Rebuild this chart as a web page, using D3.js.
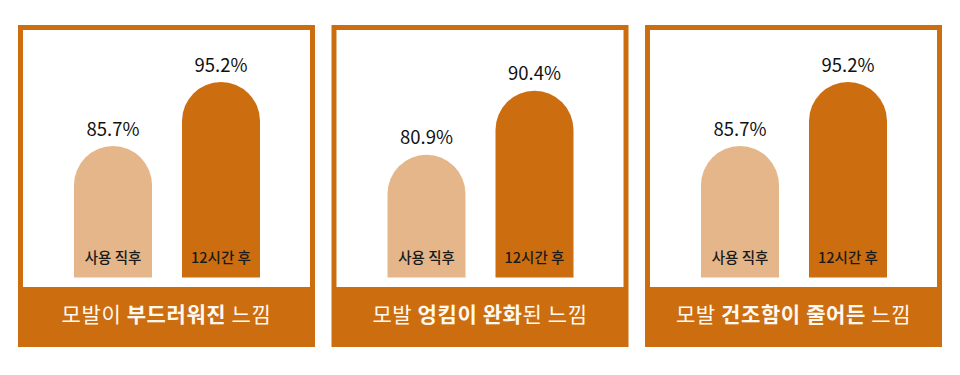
<!DOCTYPE html>
<html>
<head>
<meta charset="utf-8">
<script src="https://cdn.jsdelivr.net/npm/d3@7"></script>
<style>
  html, body { margin: 0; padding: 0; background: #fff; }
  svg { display: block; font-family: "Noto Sans CJK KR", "Noto Sans", sans-serif; }
</style>
</head>
<body>
<div id="chart"></div>
<script>
// panel titles: [regular, bold, regular]
const panelTitles = [
  ["모발이 ", "부드러워진", " 느낌"],
  ["모발 ", "엉킴이 완화", "된 느낌"],
  ["모발 ", "건조함이 줄어든", " 느낌"]
];
const barLabels = ["사용 직후", "12시간 후"];
const panelValues = [
  [85.7, 95.2],
  [80.9, 90.4],
  [85.7, 95.2]
];
// value at which each panel's bars start
const panelFloors = [66.2, 62.7, 66.2];

const width = 960, height = 375;
const orange = "#cc6e0f", light = "#e5b689";

/** Layout of one panel */
const panel = { top: 25, height: 322, border: 5, bannerTop: 287, barBottom: 277.5 };
const pxPerPoint = 6.74;

const svg = d3.select("#chart").append("svg")
  .attr("width", width)
  .attr("height", height);

// three panels, 297px wide each
const xPanel = d3.scaleBand()
  .domain(d3.range(panelTitles.length))
  .range([18, 942])
  .paddingInner(33 / 627);

const xBar = d3.scaleBand()
  .domain(barLabels)
  .range([56, 242])
  .paddingInner(30 / 108);

const panels = svg.selectAll("g.panel")
  .data(panelTitles.map((t, i) => ({ title: t, values: panelValues[i], floor: panelFloors[i] })))
  .join("g")
  .attr("class", "panel")
  .attr("transform", (d, i) => "translate(" + xPanel(i) + ",0)");

const pw = xPanel.bandwidth();

// orange frame and white interior
panels.append("rect")
  .attr("x", 0).attr("y", panel.top)
  .attr("width", pw).attr("height", panel.height)
  .attr("fill", orange);

panels.append("rect")
  .attr("x", panel.border).attr("y", panel.top + panel.border)
  .attr("width", pw - panel.border * 2)
  .attr("height", panel.bannerTop - panel.top - panel.border)
  .attr("fill", "#fff");

// bars with round tops
panels.each(function(d) {
  const g = d3.select(this);
  const y = d3.scaleLinear()
    .domain([d.floor, d.floor + 10])
    .range([panel.barBottom, panel.barBottom - pxPerPoint * 10]);
  const bw = xBar.bandwidth(), r = bw / 2;

  const bars = d.values.map((v, i) => ({ v, label: barLabels[i], i }));

  g.selectAll("path.bar")
    .data(bars)
    .join("path")
    .attr("class", "bar")
    .attr("fill", b => b.i === 0 ? light : orange)
    .attr("d", b => {
      const x0 = xBar(b.label), top = y(b.v), bottom = panel.barBottom;
      return "M" + x0 + "," + bottom +
        "V" + (top + r) +
        "A" + r + "," + r + " 0 0 1 " + (x0 + bw) + "," + (top + r) +
        "V" + bottom + "Z";
    });

  g.selectAll("text.value")
    .data(bars)
    .join("text")
    .attr("class", "value")
    .attr("x", b => xBar(b.label) + r)
    .attr("y", b => y(b.v) - 10.5)
    .attr("text-anchor", "middle")
    .attr("font-size", 18.5)
    .attr("fill", "#111")
    .text(b => b.v.toFixed(1) + "%");

  g.selectAll("text.cat")
    .data(bars)
    .join("text")
    .attr("class", "cat")
    .attr("x", b => xBar(b.label) + r)
    .attr("y", panel.barBottom - 15)
    .attr("text-anchor", "middle")
    .attr("font-size", 14.5)
    .attr("font-weight", 500)
    .attr("fill", "#1a1a1a")
    .text(b => b.label);
});

// banner titles
panels.append("text")
  .attr("x", pw / 2)
  .attr("y", 322)
  .attr("text-anchor", "middle")
  .attr("font-size", 21)
  .attr("letter-spacing", 0.6)
  .attr("fill", "#fff8f0")
  .each(function(d) {
    d3.select(this).selectAll("tspan")
      .data(d.title)
      .join("tspan")
      .attr("font-weight", (t, i) => i === 1 ? 700 : 400)
      .text(t => t);
  });
</script>
</body>
</html>
